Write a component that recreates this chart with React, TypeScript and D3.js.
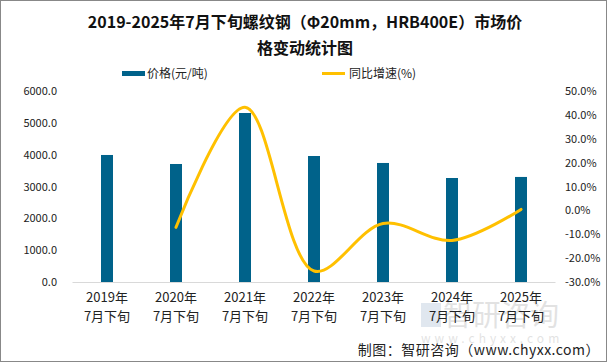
import React from "react";
import * as d3 from "d3";

const categories = ["2019年", "2020年", "2021年", "2022年", "2023年", "2024年", "2025年"];
const subLabel = "7月下旬";
const prices = [3990, 3707, 5309, 3958, 3739, 3267, 3300];
const growth: (number | null)[] = [null, -7.1, 43.2, -25.4, -5.5, -12.6, 0.4];
const leftTicks = [0, 1000, 2000, 3000, 4000, 5000, 6000];
const rightTicks = [-30, -20, -10, 0, 10, 20, 30, 40, 50];

const W = 609, H = 363;
const plotL = 72.5, plotR = 555.5, plotT = 91, plotB = 282;
const font = "'Noto Sans CJK SC', 'Noto Sans', sans-serif";

export default function App() {
  const x = d3.scaleBand<string>().domain(categories).range([plotL, plotR]).paddingInner(0).paddingOuter(0);
  const yL = d3.scaleLinear().domain([0, 6000]).range([plotB, plotT]);
  const yR = d3.scaleLinear().domain([-30, 50]).range([plotB, plotT]);
  const barW = 12;
  const pts = categories
    .map((c, i) => ({ c, v: growth[i] }))
    .filter((d) => d.v !== null) as { c: string; v: number }[];
  const line = d3
    .line<{ c: string; v: number }>()
    .x((d) => (x(d.c) as number) + x.bandwidth() / 2)
    .y((d) => yR(d.v))
    .curve(d3.curveCatmullRom.alpha(0.5));

  return (
    <svg width={W} height={H} style={{ position: "absolute", left: 0, top: 0, background: "#fff" }}>
      <rect x={0.5} y={0.5} width={W - 3} height={H - 2} fill="#fff" stroke="#888" strokeWidth={1} />
      <text x={305} y={28} textAnchor="middle" fontFamily={font} fontWeight="bold" fontSize={16} fill="#111">
        2019-2025年7月下旬螺纹钢（Φ20mm，HRB400E）市场价
      </text>
      <text x={305} y={54} textAnchor="middle" fontFamily={font} fontWeight="bold" fontSize={16} fill="#111">
        格变动统计图
      </text>
      {/* legend */}
      <rect x={122} y={71} width={23} height={5} fill="#00628A" />
      <text x={147} y={78} fontFamily={font} fontSize={12} fill="#222">价格(元/吨)</text>
      <line x1={322} x2={345} y1={73.5} y2={73.5} stroke="#FFC000" strokeWidth={3} />
      <text x={349} y={78} fontFamily={font} fontSize={12} fill="#222">同比增速(%)</text>

      {/* left axis */}
      {leftTicks.map((t) => (
        <text key={t} x={57} y={yL(t) + 4} textAnchor="end" fontFamily={font} fontSize={11} fill="#222">
          {t.toFixed(1)}
        </text>
      ))}
      {/* right axis */}
      {rightTicks.map((t) => (
        <text key={t} x={565} y={yR(t) + 4} textAnchor="start" fontFamily={font} fontSize={11} fill="#222">
          {t.toFixed(1)}%
        </text>
      ))}

      {/* watermark */}
      <g opacity={0.18}>
        <rect x={421} y={303} width={20} height={24} fill="#5b7fa8" />
        <text x={443} y={326} fontFamily={font} fontSize={29} fill="#666">智研咨询</text>
        <text x={421} y={343} fontFamily={font} fontSize={12} fill="#666" letterSpacing={4}>www.chyxx.com</text>
      </g>

      {/* bars */}
      {categories.map((c, i) => (
        <rect
          key={c}
          x={(x(c) as number) + x.bandwidth() / 2 - barW / 2}
          y={yL(prices[i])}
          width={barW}
          height={plotB - yL(prices[i])}
          fill="#00628A"
        />
      ))}
      <line x1={plotL} x2={plotR} y1={plotB + 0.5} y2={plotB + 0.5} stroke="#d9d9d9" strokeWidth={1} />
      <path d={line(pts) || ""} fill="none" stroke="#FFC000" strokeWidth={3} strokeLinecap="round" />

      {/* x labels */}
      {categories.map((c) => {
        const cx = (x(c) as number) + x.bandwidth() / 2;
        return (
          <g key={c}>
            <text x={cx} y={302} textAnchor="middle" fontFamily={font} fontSize={13} fill="#222">{c}</text>
            <text x={cx} y={321} textAnchor="middle" fontFamily={font} fontSize={13} fill="#222">{subLabel}</text>
          </g>
        );
      })}

      <text x={600} y={355} textAnchor="end" fontFamily={font} fontSize={14} letterSpacing={0.5} fill="#222">
        制图：智研咨询（www.chyxx.com）
      </text>
    </svg>
  );
}
